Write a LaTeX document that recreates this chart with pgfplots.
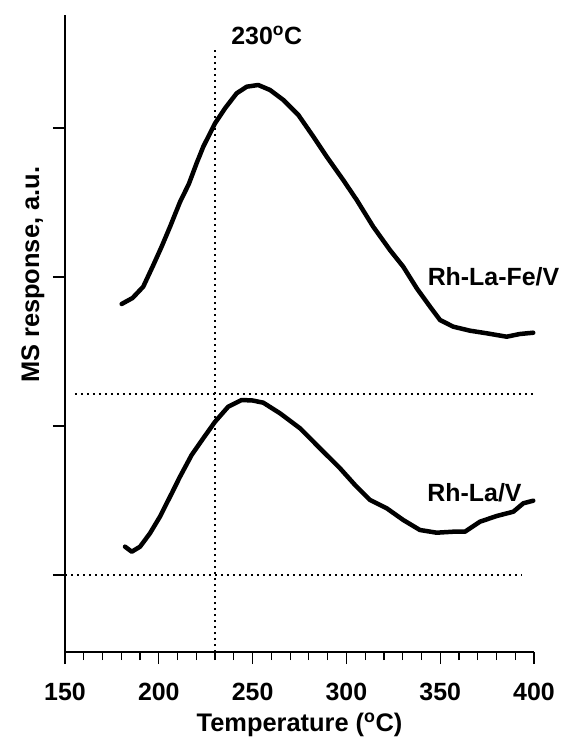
\documentclass[border=0pt]{standalone}
\usepackage{pgfplots}
\pgfplotsset{compat=1.18}
\usepackage{fontspec}
\setmainfont{Liberation Sans}
\begin{document}
\begin{tikzpicture}
\begin{axis}[
  scale only axis, width=469bp, height=637bp,
  xmin=150, xmax=400, ymin=0, ymax=637,
  axis x line*=bottom, axis y line*=left,
  axis line style={-, line width=1.2bp},
  xtick={150,200,...,400}, minor x tick num=4,
  ytick={77,226,375,524}, yticklabels={},
  tick align=outside,
  major tick length=12bp, minor tick length=8bp,
  tick style={line width=1.2bp, black},
  /pgf/number format/assume math mode=true,
  xticklabel style={font=\fontsize{25}{26}\selectfont\bfseries, anchor=center, yshift=-28bp},
  xlabel={Temperature (\textsuperscript{o}C)},
  xlabel style={font=\fontsize{25.5}{26}\selectfont\bfseries, at={(rel axis cs:0.5,0)}, anchor=center, yshift=-73bp},
  ylabel={MS response, a.u.},
  ylabel style={font=\fontsize{25.5}{26}\selectfont\bfseries, at={(rel axis cs:0,0.592)}, anchor=center, yshift=32bp},
  clip=false,
]
\coordinate (O) at (rel axis cs:0,0);
% reference dotted lines
\addplot[black, line width=1.6bp, dash pattern=on 1.6bp off 4.4bp] coordinates {(230,0) (230,602)};
\addplot[black, line width=1.6bp, dash pattern=on 1.6bp off 4.4bp] coordinates {(150,77) (393.4,77)};
\addplot[black, line width=1.6bp, dash pattern=on 1.6bp off 4.4bp] coordinates {(155.3,258) (400.5,258)};
% Rh-La-Fe/V
\addplot[black, line width=4.5bp, line join=round, line cap=round] coordinates {
(180.2,348) (186.0,354) (191.7,365.3) (197.1,387) (201.5,405.3) (206.0,425.3) (211.3,450)
(216.0,468) (220.0,488) (223.7,505.3) (230.0,528.7) (235.3,543.7) (241.5,558.7) (246.9,565.3)
(253.0,567) (259.3,562) (266.4,552) (274.4,537) (282.4,515.3) (289.5,495.3) (298.3,472)
(305.5,452) (314.3,425.3) (323.2,402) (330.3,385.3) (337.5,363.7) (344.6,345.3) (349.9,332)
(357.0,325.3) (365.9,321.3) (374.8,318.7) (385.4,315.3) (392.5,318) (399.6,319.3)
};
% Rh-La/V
\addplot[black, line width=4.5bp, line join=round, line cap=round] coordinates {
(182.0,105.3) (185.6,100.3) (190.0,105.3) (195.3,118.7) (200.6,135.3) (206.9,158.7) (211.3,175.3)
(217.5,197) (223.7,213.7) (230.0,230.3) (237.0,245.3) (244.2,252) (250.0,251.5) (255.7,249.3) (264.6,238.7)
(275.3,223.7) (285.9,203.7) (296.6,183.7) (304.6,167) (312.6,152) (321.5,143.7) (330.3,132)
(339.2,122) (348.1,119.3) (357.0,120.3) (363.2,120.3) (371.2,130.3) (380.1,136) (389.0,140.3)
(394.3,148.7) (399.6,151.3)
};
\node[font=\fontsize{25}{26}\selectfont\bfseries] at (axis cs:257.5,617) {230\textsuperscript{o}C};
\node[font=\fontsize{25}{26}\selectfont\bfseries] at (axis cs:378.4,375) {Rh-La-Fe/V};
\node[font=\fontsize{25}{26}\selectfont\bfseries] at (axis cs:368.3,159) {Rh-La/V};
\end{axis}
\pgfresetboundingbox
\path ([shift={(-65bp,-88bp)}]O) rectangle ([shift={(505bp,652bp)}]O);
\end{tikzpicture}
\end{document}
